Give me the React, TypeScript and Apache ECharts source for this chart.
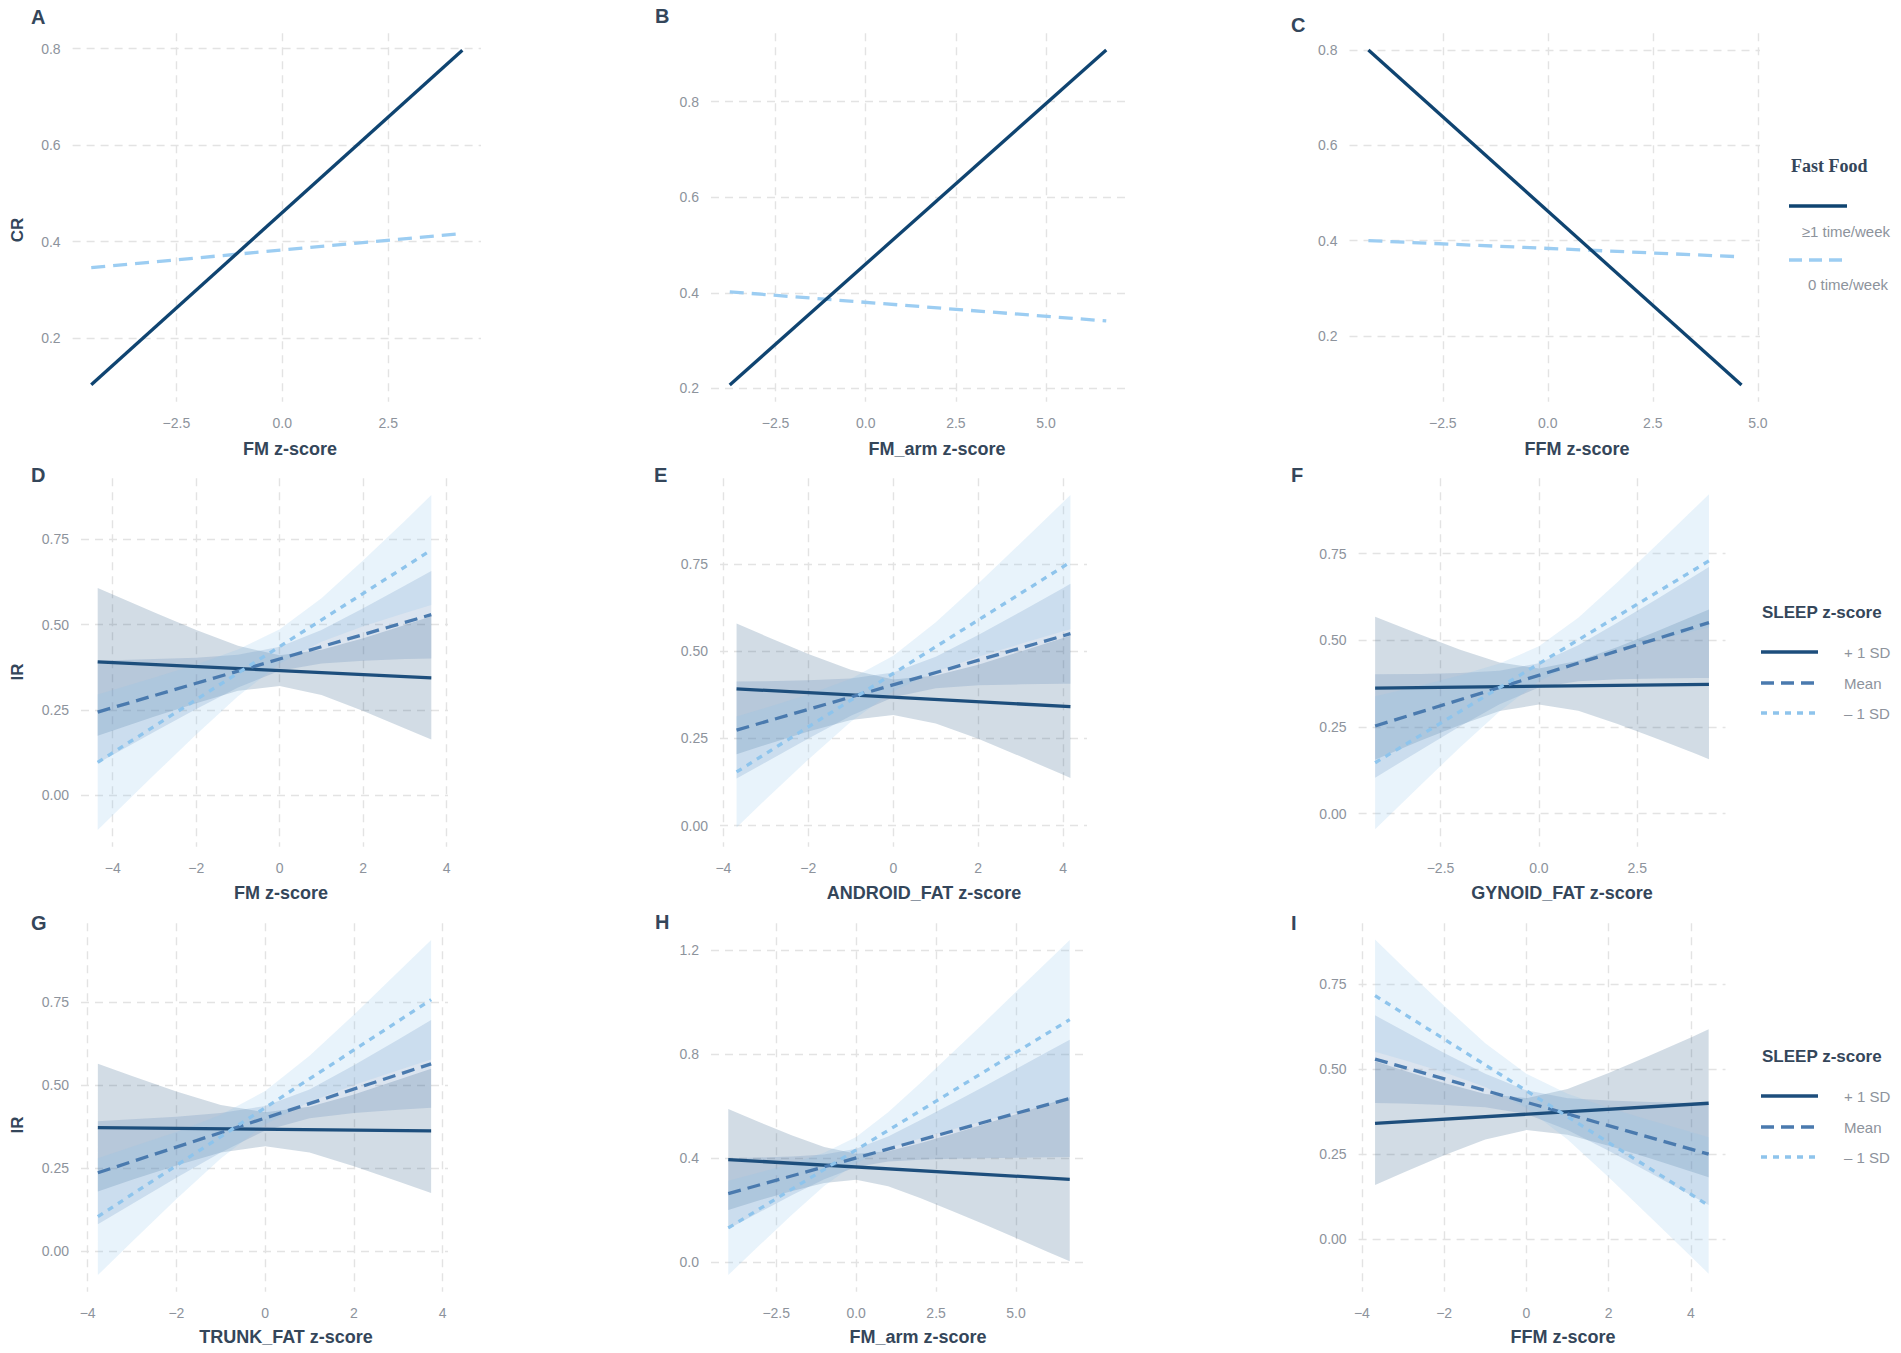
import React, { useEffect, useRef } from 'react';
import * as echarts from 'echarts';

// ---------- A-C: CR vs body composition, by fast food frequency (line ends) ----------
const aX = [-4.51, 4.25];
const aWeekly = [0.103, 0.797];
const aNone = [0.346, 0.417];

const bX = [-3.77, 6.67];
const bWeekly = [0.207, 0.908];
const bNone = [0.402, 0.341];

const cX = [-4.27, 4.61];
const cWeekly = [0.8, 0.097];
const cNone = [0.4, 0.366];

// ---------- D-I: IR vs body composition, by SLEEP z-score (lines + 95% bands) ----------
const dX = [-4.36, -3, -2, -1, 0, 1, 2, 3, 3.63];
const dPlusLo = [0.175, 0.231, 0.27, 0.306, 0.32, 0.294, 0.247, 0.196, 0.164];
const dPlusHi = [0.607, 0.535, 0.484, 0.438, 0.41, 0.426, 0.46, 0.499, 0.524];
const dMeanLo = [0.094, 0.186, 0.253, 0.316, 0.365, 0.386, 0.394, 0.399, 0.401];
const dMeanHi = [0.394, 0.399, 0.403, 0.412, 0.435, 0.484, 0.548, 0.614, 0.657];
const dMinusLo = [-0.101, 0.061, 0.178, 0.29, 0.386, 0.45, 0.495, 0.534, 0.557];
const dMinusHi = [0.295, 0.345, 0.383, 0.427, 0.486, 0.577, 0.688, 0.804, 0.879];
const dLineX = [-4.36, 3.63];
const dPlus = [0.391, 0.344];
const dMean = [0.244, 0.529];
const dMinus = [0.097, 0.718];

const eX = [-3.69, -3, -2, -1, 0, 1, 2, 3, 4, 4.17];
const ePlusLo = [0.205, 0.232, 0.27, 0.303, 0.317, 0.293, 0.249, 0.198, 0.146, 0.137];
const ePlusHi = [0.579, 0.543, 0.492, 0.447, 0.419, 0.43, 0.461, 0.499, 0.538, 0.545];
const eMeanLo = [0.135, 0.182, 0.25, 0.315, 0.368, 0.394, 0.402, 0.405, 0.407, 0.407];
const eMeanHi = [0.413, 0.414, 0.417, 0.422, 0.439, 0.484, 0.546, 0.613, 0.681, 0.693];
const eMinusLo = [-0.005, 0.076, 0.19, 0.298, 0.386, 0.442, 0.484, 0.521, 0.557, 0.563];
const eMinusHi = [0.313, 0.338, 0.376, 0.421, 0.487, 0.583, 0.694, 0.81, 0.927, 0.947];
const eLineX = [-3.69, 4.17];
const ePlus = [0.392, 0.341];
const eMean = [0.274, 0.55];
const eMinus = [0.154, 0.755];

const fX = [-4.16, -3, -2, -1, 0, 1, 2, 3, 4, 4.32];
const fPlusLo = [0.156, 0.211, 0.256, 0.296, 0.315, 0.297, 0.259, 0.216, 0.172, 0.157];
const fPlusHi = [0.568, 0.516, 0.473, 0.436, 0.419, 0.441, 0.481, 0.526, 0.574, 0.589];
const fMeanLo = [0.104, 0.184, 0.252, 0.316, 0.364, 0.382, 0.388, 0.39, 0.391, 0.391];
const fMeanHi = [0.402, 0.403, 0.406, 0.412, 0.434, 0.486, 0.551, 0.619, 0.689, 0.711];
const fMinusLo = [-0.045, 0.083, 0.192, 0.295, 0.382, 0.437, 0.472, 0.501, 0.529, 0.537];
const fMinusHi = [0.339, 0.37, 0.399, 0.433, 0.483, 0.565, 0.668, 0.776, 0.886, 0.921];
const fLineX = [-4.16, 4.32];
const fPlus = [0.362, 0.373];
const fMean = [0.253, 0.551];
const fMinus = [0.147, 0.729];

const gX = [-3.77, -3, -2, -1, 0, 1, 2, 3, 3.74];
const gPlusLo = [0.18, 0.215, 0.258, 0.297, 0.316, 0.297, 0.256, 0.21, 0.175];
const gPlusHi = [0.564, 0.527, 0.481, 0.44, 0.418, 0.435, 0.472, 0.516, 0.549];
const gMeanLo = [0.081, 0.142, 0.221, 0.297, 0.363, 0.4, 0.416, 0.426, 0.432];
const gMeanHi = [0.391, 0.397, 0.405, 0.416, 0.437, 0.487, 0.56, 0.637, 0.696];
const gMinusLo = [-0.072, 0.028, 0.157, 0.279, 0.382, 0.449, 0.5, 0.545, 0.577];
const gMinusHi = [0.28, 0.314, 0.359, 0.411, 0.482, 0.588, 0.712, 0.841, 0.937];
const gLineX = [-3.77, 3.74];
const gPlus = [0.372, 0.362];
const gMean = [0.236, 0.564];
const gMinus = [0.104, 0.757];

const hX = [-4, -3, -2, -1, 0, 1, 2, 3, 4, 5, 6, 6.68];
const hPlusLo = [0.201, 0.239, 0.274, 0.305, 0.317, 0.292, 0.247, 0.197, 0.146, 0.093, 0.04, 0.004];
const hPlusHi = [0.589, 0.537, 0.487, 0.443, 0.417, 0.427, 0.458, 0.493, 0.531, 0.569, 0.608, 0.634];
const hMeanLo = [0.128, 0.194, 0.259, 0.319, 0.366, 0.387, 0.394, 0.398, 0.4, 0.402, 0.404, 0.405];
const hMeanHi = [0.4, 0.403, 0.407, 0.414, 0.436, 0.484, 0.546, 0.61, 0.676, 0.743, 0.81, 0.855];
const hMinusLo = [-0.049, 0.068, 0.184, 0.293, 0.382, 0.437, 0.476, 0.51, 0.543, 0.575, 0.606, 0.627];
const hMinusHi = [0.313, 0.346, 0.381, 0.421, 0.482, 0.577, 0.688, 0.804, 0.921, 1.04, 1.158, 1.239];
const hLineX = [-4, 6.68];
const hPlus = [0.395, 0.319];
const hMean = [0.264, 0.63];
const hMinus = [0.132, 0.933];

const iX = [-3.68, -3, -2, -1, 0, 1, 2, 3, 4, 4.43];
const iPlusLo = [0.159, 0.195, 0.247, 0.293, 0.321, 0.307, 0.275, 0.238, 0.199, 0.182];
const iPlusHi = [0.524, 0.497, 0.46, 0.427, 0.415, 0.442, 0.489, 0.541, 0.594, 0.618];
const iMeanLo = [0.401, 0.399, 0.395, 0.388, 0.368, 0.321, 0.26, 0.195, 0.129, 0.1];
const iMeanHi = [0.659, 0.614, 0.548, 0.487, 0.438, 0.415, 0.408, 0.404, 0.401, 0.4];
const iMinusLo = [0.552, 0.528, 0.491, 0.448, 0.386, 0.293, 0.182, 0.066, -0.051, -0.102];
const iMinusHi = [0.882, 0.802, 0.687, 0.577, 0.487, 0.428, 0.387, 0.35, 0.315, 0.3];
const iLineX = [-3.68, 4.43];
const iPlus = [0.341, 0.4];
const iMean = [0.53, 0.25];
const iMinus = [0.717, 0.099];

// ---------- tick labels ----------
const xTicksA = [-2.5, 0, 2.5];
const xTicksBC = [-2.5, 0, 2.5, 5];
const xTicksInt = [-4, -2, 0, 2, 4];
const yTicksCR = [0.2, 0.4, 0.6, 0.8];
const yTicksIR = [0, 0.25, 0.5, 0.75];
const yTicksH = [0, 0.4, 0.8, 1.2];

const xTitles = ['FM z-score', 'FM_arm z-score', 'FFM z-score', 'FM z-score', 'ANDROID_FAT z-score', 'GYNOID_FAT z-score', 'TRUNK_FAT z-score', 'FM_arm z-score', 'FFM z-score'];
const letters = ['A', 'B', 'C', 'D', 'E', 'F', 'G', 'H', 'I'];

// colours
const FF_DARK = '#0f4471';
const FF_LIGHT = '#9ccdf2';
const NAVY = '#1d4e7c';
const MID = '#4a7aae';
const LIGHT = '#8ec4ec';
const BAND_NAVY = 'rgba(29,78,124,0.2)';
const BAND_MID = 'rgba(74,122,174,0.2)';
const BAND_LIGHT = 'rgba(142,196,236,0.2)';
const GRID_C = '#e3e3e3';
const TICK_C = '#8d939c';
const TITLE_C = '#34465a';
const FONT = "'Liberation Sans', Arial, sans-serif";

// panel boxes, px
const boxes = [
  { left: 72.6, top: 33.3, width: 408.4, height: 368.4 },
  { left: 711, top: 33.3, width: 414, height: 368.4 },
  { left: 1349.5, top: 33.3, width: 410.5, height: 368.4 },
  { left: 81, top: 478.3, width: 367, height: 368.4 },
  { left: 720, top: 478.3, width: 367, height: 368.4 },
  { left: 1358.6, top: 478.3, width: 366.9, height: 368.4 },
  { left: 81, top: 923.3, width: 367, height: 368.4 },
  { left: 711, top: 923.3, width: 376, height: 368.4 },
  { left: 1358.6, top: 923.3, width: 366.9, height: 368.4 },
];

// ggplot-expanded axis limits
const xLims = [[-4.95, 4.69], [-4.29, 7.19], [-4.72, 5.05], [-4.76, 4.03], [-4.08, 4.56], [-4.58, 4.74], [-4.15, 4.12], [-4.54, 7.22], [-4.08, 4.84]];
const yLims = [[0.068, 0.832], [0.172, 0.943], [0.062, 0.835], [-0.15, 0.928], [-0.06, 0.995], [-0.095, 0.967], [-0.122, 0.987], [-0.113, 1.303], [-0.155, 0.93]];
const xTickSets = [xTicksA, xTicksBC, xTicksBC, xTicksInt, xTicksInt, xTicksA, xTicksInt, xTicksBC, xTicksInt];
const yTickSets = [yTicksCR, yTicksCR, yTicksCR, yTicksIR, yTicksIR, yTicksIR, yTicksIR, yTicksH, yTicksIR];
const xDec = [1, 1, 1, 0, 0, 1, 0, 1, 0];
const yDec = [1, 1, 1, 2, 2, 2, 2, 1, 2];

const fmt = (d: number) => (v: number) => {
  const s = Math.abs(v).toFixed(d);
  return v < -1e-9 ? '\u2212' + s : s;
};

const lineSeries = (i: number, xs: number[], ys: number[], color: string, dash: any) => ({
  type: 'line',
  xAxisIndex: i,
  yAxisIndex: i,
  data: xs.map((x, k) => [x, ys[k]]),
  symbol: 'none',
  silent: true,
  z: 4,
  lineStyle: { color, width: 3.3, type: dash },
});

// ribbon drawn as one polygon through the axis scales
const bandSeries = (i: number, xs: number[], lo: number[], hi: number[], fill: string) => ({
  type: 'custom',
  xAxisIndex: i,
  yAxisIndex: i,
  silent: true,
  z: 2,
  data: xs.map((x, k) => [x, lo[k], hi[k]]),
  encode: { x: 0, y: [1, 2] },
  renderItem: (params: any, api: any) => {
    if (params.dataIndex !== 0) return null;
    const pts: number[][] = [];
    xs.forEach((x, k) => pts.push(api.coord([x, hi[k]])));
    for (let k = xs.length - 1; k >= 0; k--) pts.push(api.coord([xs[k], lo[k]]));
    return { type: 'polygon', shape: { points: pts }, style: { fill } };
  },
});

const sleepPanels = [
  { i: 3, x: dX, pl: dPlusLo, ph: dPlusHi, ml: dMeanLo, mh: dMeanHi, nl: dMinusLo, nh: dMinusHi, lx: dLineX, p: dPlus, m: dMean, n: dMinus },
  { i: 4, x: eX, pl: ePlusLo, ph: ePlusHi, ml: eMeanLo, mh: eMeanHi, nl: eMinusLo, nh: eMinusHi, lx: eLineX, p: ePlus, m: eMean, n: eMinus },
  { i: 5, x: fX, pl: fPlusLo, ph: fPlusHi, ml: fMeanLo, mh: fMeanHi, nl: fMinusLo, nh: fMinusHi, lx: fLineX, p: fPlus, m: fMean, n: fMinus },
  { i: 6, x: gX, pl: gPlusLo, ph: gPlusHi, ml: gMeanLo, mh: gMeanHi, nl: gMinusLo, nh: gMinusHi, lx: gLineX, p: gPlus, m: gMean, n: gMinus },
  { i: 7, x: hX, pl: hPlusLo, ph: hPlusHi, ml: hMeanLo, mh: hMeanHi, nl: hMinusLo, nh: hMinusHi, lx: hLineX, p: hPlus, m: hMean, n: hMinus },
  { i: 8, x: iX, pl: iPlusLo, ph: iPlusHi, ml: iMeanLo, mh: iMeanHi, nl: iMinusLo, nh: iMinusHi, lx: iLineX, p: iPlus, m: iMean, n: iMinus },
];

const text = (x: number, y: number, t: string, font: string, fill: string, align = 'left', rotation = 0) => ({
  type: 'text',
  x,
  y,
  rotation,
  silent: true,
  style: {
    text: t,
    font,
    fill,
    align,
    textAlign: align,
    verticalAlign: 'middle',
    textVerticalAlign: 'middle',
  },
});

const keyLine = (x1: number, x2: number, y: number, stroke: string, dash?: number[]) => ({
  type: 'line',
  silent: true,
  shape: { x1, y1: y, x2, y2: y },
  style: { stroke, lineWidth: 3.3, lineDash: dash },
});

const App: React.FC = () => {
  const chartRef = useRef<HTMLDivElement>(null);

  useEffect(() => {
    if (!chartRef.current) return;
    const chart = echarts.init(chartRef.current, undefined, { renderer: 'svg' });

    const grid = boxes.map(b => ({ ...b, containLabel: false }));

    const xAxis = boxes.map((_, i) => ({
      type: 'value',
      gridIndex: i,
      min: xLims[i][0],
      max: xLims[i][1],
      axisLine: { show: false },
      axisTick: { show: false, customValues: xTickSets[i] },
      axisLabel: { customValues: xTickSets[i], formatter: fmt(xDec[i]), color: TICK_C, fontSize: 14, fontFamily: FONT, margin: 14 },
      splitLine: { show: true, customValues: xTickSets[i], lineStyle: { color: GRID_C, width: 1.4, type: [8, 6] } },
    }));

    const yAxis = boxes.map((_, i) => ({
      type: 'value',
      gridIndex: i,
      min: yLims[i][0],
      max: yLims[i][1],
      axisLine: { show: false },
      axisTick: { show: false, customValues: yTickSets[i] },
      axisLabel: { customValues: yTickSets[i], formatter: fmt(yDec[i]), color: TICK_C, fontSize: 14, fontFamily: FONT, margin: 12 },
      splitLine: { show: true, customValues: yTickSets[i], lineStyle: { color: GRID_C, width: 1.4, type: [8, 6] } },
    }));

    const series: any[] = [
      lineSeries(0, aX, aNone, FF_LIGHT, [14, 8]),
      lineSeries(0, aX, aWeekly, FF_DARK, 'solid'),
      lineSeries(1, bX, bNone, FF_LIGHT, [14, 8]),
      lineSeries(1, bX, bWeekly, FF_DARK, 'solid'),
      lineSeries(2, cX, cNone, FF_LIGHT, [14, 8]),
      lineSeries(2, cX, cWeekly, FF_DARK, 'solid'),
    ];
    sleepPanels.forEach(p => {
      series.push(bandSeries(p.i, p.x, p.pl, p.ph, BAND_NAVY));
      series.push(bandSeries(p.i, p.x, p.ml, p.mh, BAND_MID));
      series.push(bandSeries(p.i, p.x, p.nl, p.nh, BAND_LIGHT));
      series.push(lineSeries(p.i, p.lx, p.p, NAVY, 'solid'));
      series.push(lineSeries(p.i, p.lx, p.m, MID, [13, 7]));
      series.push(lineSeries(p.i, p.lx, p.n, LIGHT, [6, 6]));
    });

    const letterFont = `bold 20px ${FONT}`;
    const titleFont = `bold 18px ${FONT}`;
    const yTitleFont = `bold 17px ${FONT}`;
    const keyFont = `15px ${FONT}`;
    const legTitleFont = `bold 17px ${FONT}`;

    const letterPos = [[31, 17], [655, 16], [1291, 25], [31, 475], [654, 475], [1291, 475], [31, 923], [655, 922], [1291, 923]];
    const titleX = [290, 937, 1577, 281, 924, 1562, 286, 918, 1563];
    const titleY = [449, 449, 449, 893, 893, 893, 1337, 1337, 1337];

    const graphic: any[] = [];
    letters.forEach((l, i) => graphic.push(text(letterPos[i][0], letterPos[i][1], l, letterFont, TITLE_C)));
    xTitles.forEach((t, i) => graphic.push(text(titleX[i], titleY[i], t, titleFont, TITLE_C, 'center')));
    graphic.push(text(17, 230, 'CR', yTitleFont, TITLE_C, 'center', Math.PI / 2));
    graphic.push(text(17, 672, 'IR', yTitleFont, TITLE_C, 'center', Math.PI / 2));
    graphic.push(text(17, 1125, 'IR', yTitleFont, TITLE_C, 'center', Math.PI / 2));

    // Fast Food legend
    graphic.push(text(1791, 166, 'Fast Food', "bold 18px 'Liberation Serif', 'Times New Roman', serif", TITLE_C));
    graphic.push(keyLine(1789, 1847, 206, FF_DARK));
    graphic.push(text(1890, 231, '\u22651 time/week', keyFont, TICK_C, 'right'));
    graphic.push(keyLine(1789, 1847, 260, FF_LIGHT, [13, 7]));
    graphic.push(text(1888, 284, '0 time/week', keyFont, TICK_C, 'right'));

    // SLEEP legends
    [612, 1056].forEach(top => {
      graphic.push(text(1762, top, 'SLEEP z-score', legTitleFont, TITLE_C));
      graphic.push(keyLine(1761, 1818, top + 40, NAVY));
      graphic.push(text(1844, top + 40, '+ 1 SD', keyFont, TICK_C));
      graphic.push(keyLine(1761, 1818, top + 71, MID, [13, 7]));
      graphic.push(text(1844, top + 71, 'Mean', keyFont, TICK_C));
      graphic.push(keyLine(1761, 1818, top + 101, LIGHT, [6, 6]));
      graphic.push(text(1844, top + 101, '\u2013 1 SD', keyFont, TICK_C));
    });

    chart.setOption({
      animation: false,
      backgroundColor: '#ffffff',
      textStyle: { fontFamily: FONT },
      grid,
      xAxis,
      yAxis,
      series,
      graphic,
    });

    return () => {
      chart.dispose();
    };
  }, []);

  return <div ref={chartRef} style={{ position: 'absolute', left: 0, top: 0, width: 1901, height: 1353 }} />;
};

export default App;
